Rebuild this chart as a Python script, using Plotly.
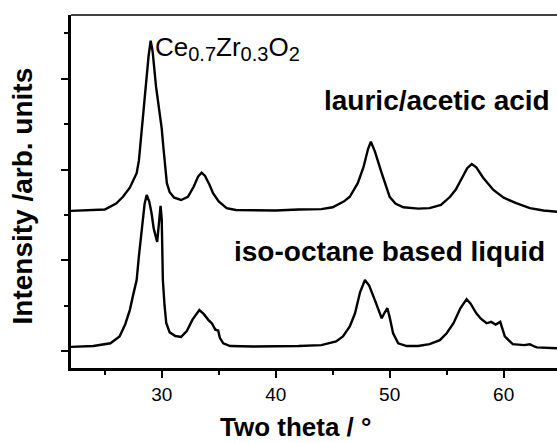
import plotly.graph_objects as go

# ---- data (two theta in degrees, intensity in arb. units, offset) ----
lauric_theta = [22.0, 23.5, 25.0, 26.0, 26.6, 27.2, 27.6, 27.8, 28.0, 28.16, 28.4, 28.62, 28.85, 29.03,
                29.2, 29.5, 29.8, 30.0, 30.14, 30.3, 30.45, 30.7, 31.1, 31.7, 32.3, 32.8, 33.2, 33.5,
                33.8, 34.2, 34.5, 35.0, 35.7, 36.5, 38.0, 40.0, 42.0, 44.0, 45.0, 46.0, 46.5, 47.2,
                47.7, 48.1, 48.35, 48.7, 49.3, 49.7, 50.0, 50.5, 51.2, 52.5, 53.5, 54.5, 55.3, 55.8,
                56.3, 56.8, 57.2, 57.6, 58.2, 59.1, 60.0, 61.1, 62.3, 63.5, 64.7]
lauric_int = [3.09, 3.10, 3.12, 3.25, 3.40, 3.60, 3.80, 3.92, 4.20, 4.65, 5.24, 5.82, 6.50, 6.83,
              6.60, 5.82, 5.24, 4.90, 4.50, 4.00, 3.70, 3.50, 3.38, 3.33, 3.40, 3.62, 3.85, 3.93,
              3.86, 3.66, 3.48, 3.30, 3.15, 3.11, 3.10, 3.10, 3.12, 3.13, 3.17, 3.30, 3.40, 3.70,
              4.05, 4.45, 4.61, 4.40, 3.92, 3.60, 3.40, 3.25, 3.17, 3.14, 3.15, 3.22, 3.40, 3.56,
              3.80, 4.03, 4.12, 4.05, 3.82, 3.55, 3.38, 3.26, 3.15, 3.10, 3.07]

isooctane_theta = [22.0, 24.0, 25.5, 26.3, 26.8, 27.2, 27.5, 27.8, 28.0, 28.25, 28.5, 28.68, 28.9,
                   29.1, 29.3, 29.6, 29.75, 29.9, 30.0, 30.1, 30.25, 30.4, 30.7, 31.2, 31.7, 32.2,
                   32.7, 33.3, 33.7, 34.1, 34.4, 34.7, 34.95, 35.1, 35.4, 36.0, 38.0, 40.0, 42.0,
                   44.0, 45.3, 45.9, 46.5, 46.96, 47.4, 47.83, 48.2, 48.7, 49.0, 49.3, 49.55, 49.8,
                   50.0, 50.3, 50.75, 51.5, 52.5, 53.5, 54.4, 55.0, 55.6, 56.2, 56.75, 57.1, 57.6,
                   58.0, 58.5, 58.9, 59.3, 59.7, 60.1, 60.8, 61.8, 62.3, 62.6, 62.9, 64.7]
isooctane_int = [0.10, 0.12, 0.18, 0.33, 0.60, 0.91, 1.25, 1.57, 2.10, 2.67, 3.25, 3.44, 3.30,
                 3.05, 2.70, 2.41, 2.80, 3.20, 2.90, 1.57, 1.00, 0.62, 0.42, 0.34, 0.32, 0.45,
                 0.70, 0.91, 0.82, 0.69, 0.62, 0.48, 0.46, 0.30, 0.18, 0.12, 0.11, 0.11, 0.12,
                 0.14, 0.22, 0.33, 0.55, 0.84, 1.30, 1.57, 1.45, 1.13, 0.95, 0.73, 0.85, 0.95,
                 0.75, 0.40, 0.18, 0.12, 0.12, 0.16, 0.25, 0.40, 0.62, 0.95, 1.15, 1.05, 0.84,
                 0.72, 0.62, 0.65, 0.59, 0.65, 0.33, 0.16, 0.14, 0.16, 0.12, 0.09, 0.07]

x_tickvals = [30, 40, 50, 60]
x_ticktext = ["30", "40", "50", "60"]
y_major_ticks = [0, 2, 4, 6]

FONT = "Liberation Sans, Arial, sans-serif"

fig = go.Figure()
fig.add_trace(go.Scatter(x=lauric_theta, y=lauric_int, mode="lines",
                         line=dict(color="black", width=2.4), showlegend=False))
fig.add_trace(go.Scatter(x=isooctane_theta, y=isooctane_int, mode="lines",
                         line=dict(color="black", width=2.4), showlegend=False))

fig.update_layout(
    width=557, height=443,
    margin=dict(l=71, r=0, t=15, b=75),
    paper_bgcolor="white", plot_bgcolor="white",
    font=dict(family=FONT, color="black"),
    xaxis=dict(range=[22.04, 64.68], tickvals=x_tickvals, ticktext=x_ticktext,
               ticks="outside", ticklen=7, tickwidth=2, tickcolor="black",
               minor=dict(dtick=5, tick0=0, ticks="outside", ticklen=4, tickwidth=2, tickcolor="black"),
               showline=True, linewidth=2.5, linecolor="black", showgrid=False, zeroline=False,
               ticklabelstandoff=0,
               tickfont=dict(size=19, family=FONT, color="black")),
    yaxis=dict(range=[-0.363, 7.396], tickvals=y_major_ticks, showticklabels=False,
               ticks="outside", ticklen=7, tickwidth=2, tickcolor="black",
               minor=dict(dtick=1, tick0=0, ticks="outside", ticklen=4, tickwidth=2, tickcolor="black"),
               showline=True, linewidth=2.5, linecolor="black", showgrid=False, zeroline=False),
    shapes=[dict(type="line", xref="paper", yref="paper", x0=0, x1=1, y0=1, y1=1,
                 line=dict(color="black", width=1.6))],
    annotations=[
        dict(text="Ce<sub><span style=\"font-size:20px\">0.7</span></sub>Zr"
                  "<sub><span style=\"font-size:20px\">0.3</span></sub>O"
                  "<sub><span style=\"font-size:20px\">2</span></sub>",
             xref="paper", yref="paper",
             x=0.1687, y=0.9065, xanchor="left", yanchor="middle", showarrow=False,
             font=dict(size=26, family=FONT, color="black")),
        dict(text="<b>lauric/acetic acid</b>", xref="paper", yref="paper",
             x=0.517, y=0.757, xanchor="left", yanchor="middle", showarrow=False,
             font=dict(size=28, family=FONT, color="black")),
        dict(text="<b>iso-octane based liquid</b>", xref="paper", yref="paper",
             x=0.331, y=0.3295, xanchor="left", yanchor="middle", showarrow=False,
             font=dict(size=28, family=FONT, color="black")),
        dict(text="<b>Intensity /arb. units</b>", xref="paper", yref="paper",
             x=-0.0988, y=0.4887, xanchor="center", yanchor="middle", textangle=-90,
             showarrow=False, font=dict(size=28, family=FONT, color="black")),
        dict(text="<b>Two theta / °</b>", xref="paper", yref="paper",
             x=0.4619, y=-0.168, xanchor="center", yanchor="middle", showarrow=False,
             font=dict(size=26, family=FONT, color="black")),
    ],
)

fig.write_html("out.html", config={"displayModeBar": False},
               post_script="document.body.style.margin='0';")
